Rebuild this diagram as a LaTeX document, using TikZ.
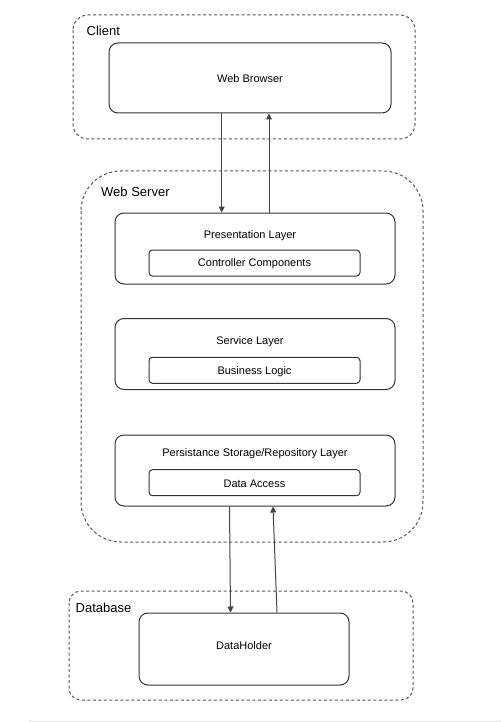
\documentclass[tikz,border=0pt]{standalone}
\usepackage{fontspec}
\setmainfont{Liberation Sans}
\usetikzlibrary{arrows.meta}
\definecolor{boxline}{HTML}{333333}
\definecolor{dashline}{HTML}{555555}
\definecolor{arrline}{HTML}{444444}
\definecolor{pageline}{HTML}{E4E4E4}
\tikzset{
  container/.style={draw=dashline, line width=1pt, dash pattern=on 3pt off 2.5pt},
  layerbox/.style={draw=boxline, line width=1pt, rounded corners=9pt, inner sep=0pt},
  compbox/.style={draw=boxline, line width=1pt, rounded corners=3.5pt, inner sep=0pt},
  lbl/.style={inner sep=0pt, text height=7.9pt, text depth=0pt, font=\fontsize{11}{13}\selectfont},
  grouplbl/.style={inner sep=0pt, anchor=west, text height=9.3pt, text depth=0pt, font=\fontsize{13}{15}\selectfont},
  arr/.style={draw=arrline, line width=1pt, -{Triangle[width=6pt,length=6pt]}}
}
\begin{document}
\begin{tikzpicture}[x=1pt,y=-1pt]
\useasboundingbox (0,0) rectangle (501,722);
\fill[white] (0,0) rectangle (501,722);
% page edge line
\draw[pageline, line width=1pt] (29,721) -- (501,721);

% containers
\draw[container, rounded corners=15pt] (73,15) rectangle (415,139);
\draw[container, rounded corners=40pt] (81,171) rectangle (423,542);
\draw[container, rounded corners=12pt] (69,591) rectangle (413,700);

\node[grouplbl] (clientlbl) at (86.5,30.5) {Client};
\node[grouplbl] (serverlbl) at (101,192) {Web Server};
\node[grouplbl] (dblbl) at (75.5,608) {Database};

% client
\node[layerbox, minimum width=282pt, minimum height=70pt] (wb) at (250,78) {};
\node[lbl] (wbtitle) at (250,78.8) {Web Browser};

% presentation layer
\node[layerbox, minimum width=280pt, minimum height=71pt] (pres) at (255,248.5) {};
\node[lbl] (prestitle) at (250,234.5) {Presentation Layer};
\node[compbox, minimum width=211pt, minimum height=26pt] (ctrl) at (254.5,263) {};
\node[lbl] (ctrltitle) at (254.5,262.8) {Controller Components};

% service layer
\node[layerbox, minimum width=280pt, minimum height=71pt] (serv) at (255,354) {};
\node[lbl] (servtitle) at (250,340.7) {Service Layer};
\node[compbox, minimum width=211pt, minimum height=26pt] (biz) at (254.5,370.3) {};
\node[lbl] (biztitle) at (254.5,370.7) {Business Logic};

% persistence layer
\node[layerbox, minimum width=280pt, minimum height=71pt] (pers) at (255,470.5) {};
\node[lbl] (perstitle) at (255,452.7) {Persistance Storage/Repository Layer};
\node[compbox, minimum width=211pt, minimum height=26pt] (da) at (254.5,482.7) {};
\node[lbl] (datitle) at (254.5,483.3) {Data Access};

% database
\node[layerbox, minimum width=210pt, minimum height=72pt] (dh) at (244,649) {};
\node[lbl] (dhtitle) at (244,645.3) {DataHolder};

% arrows
\draw[arr] (221.7,0 |- wb.south) -- (221.7,0 |- pres.north);
\draw[arr] (269,0 |- pres.north) -- (269,0 |- wb.south);
\draw[arr] (229.5,0 |- pers.south) -- (230.5,0 |- dh.north);
\draw[arr] (277,0 |- dh.north) -- (273,0 |- pers.south);
\end{tikzpicture}
\end{document}
